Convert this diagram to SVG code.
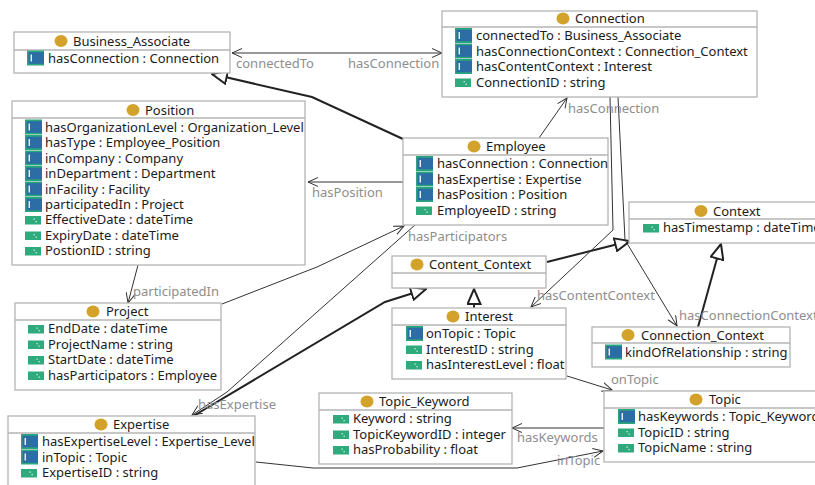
<svg xmlns="http://www.w3.org/2000/svg" xmlns:xlink="http://www.w3.org/1999/xlink" width="815" height="485" viewBox="0 0 815 485">
<style>
.box{fill:#fff;stroke:#b4b4b4;stroke-width:1.3}
.sep{stroke:#b4b4b4;stroke-width:1.3}
text{font-family:"Noto Sans","Open Sans","DejaVu Sans",sans-serif;font-size:13px}
.t{fill:#1c1c1c}
.lbl{fill:#8e8e8e}
.ln{fill:none;stroke:#333;stroke-width:1}
.gen{fill:none;stroke:#222;stroke-width:2}
</style>
<defs>
<g id="op"><rect x="0" y="-7.5" width="17" height="15" fill="#2ba57c"/><rect x="1.5" y="-5.8" width="15.5" height="11.6" fill="#2d6da6"/><rect x="3.6" y="-3.5" width="1.3" height="7" fill="#fff"/></g>
<g id="dp"><rect x="0" y="-3" width="16" height="8.5" fill="#2eaa7c"/><rect x="8.5" y="-0.5" width="1.3" height="1.3" fill="#c8f0dc"/><rect x="10.5" y="2" width="1.3" height="1.3" fill="#c8f0dc"/></g>
<ellipse id="cls" cx="0" cy="0" rx="6.5" ry="6" fill="#d3a22b"/>
<marker id="arr" viewBox="0 0 11 10" refX="10" refY="5" markerWidth="11" markerHeight="10" markerUnits="userSpaceOnUse" orient="auto-start-reverse"><path d="M0,0.5 L10,5 L0,9.5" fill="none" stroke="#333" stroke-width="1"/></marker>
<marker id="tri" viewBox="-1 -1 17 15" refX="15" refY="6.5" markerWidth="17" markerHeight="15" markerUnits="userSpaceOnUse" orient="auto"><path d="M0,0 L15,6.5 L0,13 Z" fill="#fff" stroke="#222" stroke-width="2" stroke-linejoin="miter"/></marker>
</defs>

<g id="connectors">
<path class="ln" d="M232,53 L442,53" marker-start="url(#arr)" marker-end="url(#arr)"/>
<path class="gen" d="M403,139 L312,97 L212,74" marker-end="url(#tri)"/>
<path class="ln" d="M403,182 L308,182" marker-end="url(#arr)"/>
<path class="ln" d="M539,138 L567,98" marker-end="url(#arr)"/>
<path class="ln" d="M138,265 L128,303" marker-end="url(#arr)"/>
<path class="ln" d="M222,304 L317,267 L404,226" marker-end="url(#arr)"/>
<path class="ln" d="M415,225 L227,392 L192,415" marker-end="url(#arr)"/>
<path class="gen" d="M195,415 L385,302 L426,289" marker-end="url(#tri)"/>
<path class="gen" d="M474,308 L474,289" marker-end="url(#tri)"/>
<path class="gen" d="M547,262 L630,241" marker-end="url(#tri)"/>
<path class="gen" d="M698,327 L721,244" marker-end="url(#tri)"/>
<path class="ln" d="M610,97 L613,230 L531,307" marker-end="url(#arr)"/>
<path class="ln" d="M618,97 L625,240 L677,326" marker-end="url(#arr)"/>
<path class="ln" d="M567,376 L612,390" marker-end="url(#arr)"/>
<path class="ln" d="M604,428 L512,428" marker-end="url(#arr)"/>
<path class="ln" d="M256,462 L313,468 L517,468 L603,451" marker-end="url(#arr)"/>
<text class="lbl" x="236" y="67.5">connectedTo</text>
<text class="lbl" x="348" y="67.5">hasConnection</text>
<text class="lbl" x="312" y="196.5">hasPosition</text>
<text class="lbl" x="568" y="112.5">hasConnection</text>
<text class="lbl" x="133" y="295.5">participatedIn</text>
<text class="lbl" x="408" y="240.5">hasParticipators</text>
<text class="lbl" x="198" y="408.5">hasExpertise</text>
<text class="lbl" x="537" y="299.5">hasContentContext</text>
<text class="lbl" x="679" y="319.5">hasConnectionContext</text>
<text class="lbl" x="611" y="383.5">onTopic</text>
<text class="lbl" x="517" y="441.5">hasKeywords</text>
<text class="lbl" x="557" y="464.5">inTopic</text>
</g>

<g id="Business_Associate">
<rect class="box" x="14" y="32" width="216" height="41"/>
<line class="sep" x1="14" y1="50" x2="230" y2="50"/>
<use xlink:href="#cls" x="61" y="41"/>
<text class="t" x="73" y="45.5">Business_Associate</text>
<use xlink:href="#op" x="27" y="58"/>
<text class="t" x="48" y="62.5">hasConnection : Connection</text>
</g>

<g id="Position">
<rect class="box" x="12" y="101" width="293" height="164"/>
<line class="sep" x1="12" y1="118" x2="305" y2="118"/>
<use xlink:href="#cls" x="133" y="110"/>
<text class="t" x="145" y="114.5">Position</text>
<use xlink:href="#op" x="25" y="127"/>
<use xlink:href="#op" x="25" y="142.5"/>
<use xlink:href="#op" x="25" y="158"/>
<use xlink:href="#op" x="25" y="173.5"/>
<use xlink:href="#op" x="25" y="189"/>
<use xlink:href="#op" x="25" y="204.5"/>
<use xlink:href="#dp" x="25" y="219"/>
<use xlink:href="#dp" x="25" y="234.5"/>
<use xlink:href="#dp" x="25" y="250"/>
<text class="t" x="45" y="131.5">hasOrganizationLevel : Organization_Level</text>
<text class="t" x="45" y="147">hasType : Employee_Position</text>
<text class="t" x="45" y="162.5">inCompany : Company</text>
<text class="t" x="45" y="178">inDepartment : Department</text>
<text class="t" x="45" y="193.5">inFacility : Facility</text>
<text class="t" x="45" y="209">participatedIn : Project</text>
<text class="t" x="45" y="224">EffectiveDate : dateTime</text>
<text class="t" x="45" y="239.5">ExpiryDate : dateTime</text>
<text class="t" x="45" y="255">PostionID : string</text>
</g>

<g id="Connection">
<rect class="box" x="442" y="11" width="315" height="86"/>
<line class="sep" x1="442" y1="27" x2="757" y2="27"/>
<use xlink:href="#cls" x="563" y="18.5"/>
<text class="t" x="575" y="23">Connection</text>
<use xlink:href="#op" x="455" y="35.5"/>
<use xlink:href="#op" x="455" y="51"/>
<use xlink:href="#op" x="455" y="66.5"/>
<use xlink:href="#dp" x="455" y="81.5"/>
<text class="t" x="476" y="40">connectedTo : Business_Associate</text>
<text class="t" x="476" y="55.5">hasConnectionContext : Connection_Context</text>
<text class="t" x="476" y="71">hasContentContext : Interest</text>
<text class="t" x="476" y="86.5">ConnectionID : string</text>
</g>

<g id="Employee">
<rect class="box" x="403" y="138" width="205" height="87"/>
<line class="sep" x1="403" y1="155" x2="608" y2="155"/>
<use xlink:href="#cls" x="474" y="146.5"/>
<text class="t" x="486" y="151">Employee</text>
<use xlink:href="#op" x="416" y="163.5"/>
<use xlink:href="#op" x="416" y="179"/>
<use xlink:href="#op" x="416" y="194.5"/>
<use xlink:href="#dp" x="416" y="209.5"/>
<text class="t" x="437" y="168">hasConnection : Connection</text>
<text class="t" x="437" y="183.5">hasExpertise : Expertise</text>
<text class="t" x="437" y="199">hasPosition : Position</text>
<text class="t" x="437" y="214.5">EmployeeID : string</text>
</g>

<g id="Context">
<rect class="box" x="629" y="202" width="200" height="41"/>
<line class="sep" x1="629" y1="219" x2="829" y2="219"/>
<use xlink:href="#cls" x="701" y="211"/>
<text class="t" x="713" y="215.5">Context</text>
<use xlink:href="#dp" x="643" y="227"/>
<text class="t" x="663" y="232">hasTimestamp : dateTime</text>
</g>

<g id="Content_Context">
<rect class="box" x="392" y="256" width="154" height="32"/>
<line class="sep" x1="392" y1="273" x2="546" y2="273"/>
<use xlink:href="#cls" x="417" y="264.5"/>
<text class="t" x="429" y="269">Content_Context</text>
</g>

<g id="Interest">
<rect class="box" x="392" y="308" width="174" height="71"/>
<line class="sep" x1="392" y1="325" x2="566" y2="325"/>
<use xlink:href="#cls" x="453" y="316.5"/>
<text class="t" x="465" y="321">Interest</text>
<use xlink:href="#op" x="406" y="333.5"/>
<use xlink:href="#dp" x="406" y="348.5"/>
<use xlink:href="#dp" x="406" y="364"/>
<text class="t" x="426" y="338">onTopic : Topic</text>
<text class="t" x="426" y="353.5">InterestID : string</text>
<text class="t" x="426" y="369">hasInterestLevel : float</text>
</g>

<g id="Connection_Context">
<rect class="box" x="592" y="327" width="198" height="40"/>
<line class="sep" x1="592" y1="343" x2="790" y2="343"/>
<use xlink:href="#cls" x="628" y="335"/>
<text class="t" x="641" y="339.5">Connection_Context</text>
<use xlink:href="#op" x="605" y="352"/>
<text class="t" x="625" y="356.5">kindOfRelationship : string</text>
</g>

<g id="Topic">
<rect class="box" x="604" y="391" width="230" height="71"/>
<line class="sep" x1="604" y1="408" x2="834" y2="408"/>
<use xlink:href="#cls" x="696" y="399.5"/>
<text class="t" x="709" y="404">Topic</text>
<use xlink:href="#op" x="618" y="416.5"/>
<use xlink:href="#dp" x="618" y="431.5"/>
<use xlink:href="#dp" x="618" y="447"/>
<text class="t" x="638" y="421">hasKeywords : Topic_Keyword</text>
<text class="t" x="638" y="436.5">TopicID : string</text>
<text class="t" x="638" y="452">TopicName : string</text>
</g>

<g id="Topic_Keyword">
<rect class="box" x="319" y="393" width="193" height="71"/>
<line class="sep" x1="319" y1="410" x2="512" y2="410"/>
<use xlink:href="#cls" x="367" y="401.5"/>
<text class="t" x="379" y="406">Topic_Keyword</text>
<use xlink:href="#dp" x="333" y="418"/>
<use xlink:href="#dp" x="333" y="433.5"/>
<use xlink:href="#dp" x="333" y="449"/>
<text class="t" x="353" y="423">Keyword : string</text>
<text class="t" x="353" y="438.5">TopicKeywordID : integer</text>
<text class="t" x="353" y="454">hasProbability : float</text>
</g>

<g id="Project">
<rect class="box" x="15" y="303" width="206" height="87"/>
<line class="sep" x1="15" y1="320" x2="221" y2="320"/>
<use xlink:href="#cls" x="93" y="311.5"/>
<text class="t" x="106" y="316">Project</text>
<use xlink:href="#dp" x="28" y="328"/>
<use xlink:href="#dp" x="28" y="343.5"/>
<use xlink:href="#dp" x="28" y="359"/>
<use xlink:href="#dp" x="28" y="374.5"/>
<text class="t" x="48" y="333">EndDate : dateTime</text>
<text class="t" x="48" y="348.5">ProjectName : string</text>
<text class="t" x="48" y="364">StartDate : dateTime</text>
<text class="t" x="48" y="379.5">hasParticipators : Employee</text>
</g>

<g id="Expertise">
<rect class="box" x="8" y="416" width="247" height="80"/>
<line class="sep" x1="8" y1="433" x2="255" y2="433"/>
<use xlink:href="#cls" x="101" y="424.5"/>
<text class="t" x="113" y="429">Expertise</text>
<use xlink:href="#op" x="21" y="441.5"/>
<use xlink:href="#op" x="21" y="457"/>
<use xlink:href="#dp" x="21" y="472"/>
<text class="t" x="42" y="446">hasExpertiseLevel : Expertise_Level</text>
<text class="t" x="42" y="461.5">inTopic : Topic</text>
<text class="t" x="42" y="477">ExpertiseID : string</text>
</g>
</svg>
